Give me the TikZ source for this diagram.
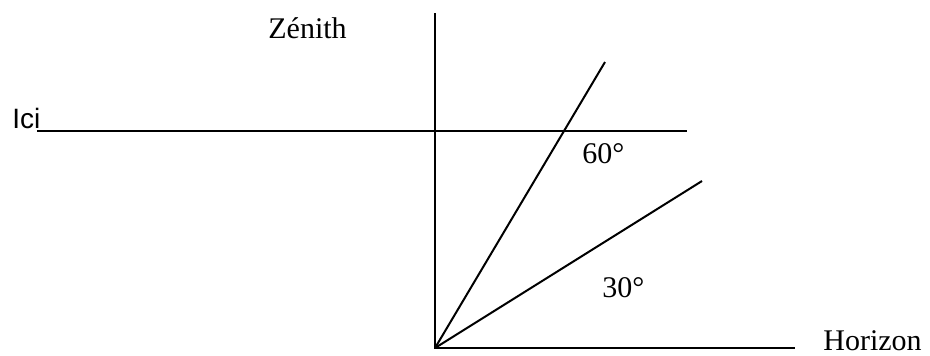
\documentclass[tikz,border=0pt]{standalone}
\usepackage{fontspec}
\setmainfont{Liberation Serif}
\newfontfamily\arialfont{Liberation Sans}
\begin{document}
\begin{tikzpicture}[x=0.5pt,y=-0.5pt,
  lbl/.style={inner sep=0pt,anchor=base west,font=\fontsize{15}{18}\selectfont},
  ln/.style={line width=1pt}]
\useasboundingbox (0,0) rectangle (930,355);
% points
\coordinate (O) at (435,348);
\coordinate (T) at (435,13);
\coordinate (H) at (795,348);
\coordinate (L1) at (37,131);
\coordinate (L2) at (687,131);
\coordinate (A60) at (605,62);
\coordinate (A30) at (702,181);
% labels
\node[lbl] (zen) at (268,38) {Zénith};
\node[lbl,font=\arialfont\fontsize{14}{17}\selectfont] (ici) at (12,128) {Ici};
\node[lbl] (s60) at (582,163) {60°};
\node[lbl] (s30) at (602,297) {30°};
\node[lbl] (hor) at (823,350) {Horizon};
% lines
\draw[ln] (T) -- (O) -- (H);
\draw[ln] (L1) -- (L2);
\draw[ln] (O) -- (A60);
\draw[ln] (O) -- (A30);
\end{tikzpicture}
\end{document}
